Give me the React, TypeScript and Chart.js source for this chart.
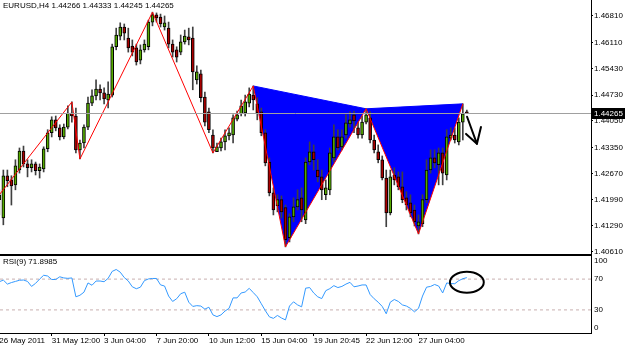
import React, { useEffect, useRef } from 'react';
import { Chart, registerables } from 'chart.js';
Chart.register(...registerables);

const symbol = 'EURUSD,H4';

const opens = [
  1.4198, 1.4150, 1.4261, 1.4250, 1.4237, 1.4276, 1.4326, 1.4292, 1.4282, 1.4292,
  1.4274, 1.4279, 1.4332, 1.4374, 1.4408, 1.4387, 1.4363, 1.4389, 1.4426, 1.4418,
  1.4329, 1.4347, 1.4389, 1.4452, 1.4471, 1.4489, 1.4479, 1.4460, 1.4473, 1.4600,
  1.4628, 1.4652, 1.4623, 1.4602, 1.4597, 1.4565, 1.4592, 1.4600, 1.4665, 1.4684,
  1.4678, 1.4652, 1.4649, 1.4607, 1.4592, 1.4586, 1.4613, 1.4626, 1.4623, 1.4513,
  1.4529, 1.4468, 1.4429, 1.4368, 1.4324, 1.4334, 1.4350, 1.4366, 1.4368, 1.4410,
  1.4424, 1.4426, 1.4452, 1.4473, 1.4450, 1.4429, 1.4374, 1.4297, 1.4216, 1.4182,
  1.4198, 1.4177, 1.4098, 1.4153, 1.4179, 1.4203, 1.4145, 1.4297, 1.4324, 1.4276,
  1.4258, 1.4211, 1.4224, 1.4308, 1.4363, 1.4337, 1.4368, 1.4397, 1.4421, 1.4387,
  1.4368, 1.4402, 1.4413, 1.4355, 1.4324, 1.4303, 1.4255, 1.4163, 1.4263, 1.4258,
  1.4232, 1.4203, 1.4190, 1.4171, 1.4129, 1.4135, 1.4198, 1.4276, 1.4308, 1.4290,
  1.4321, 1.4263, 1.4360, 1.4368, 1.4350, 1.4402, 1.44266,
];
const highs = [
  1.4224, 1.4276, 1.4276, 1.4261, 1.4303, 1.4334, 1.4339, 1.4303, 1.4303, 1.4297,
  1.4292, 1.4337, 1.4382, 1.4416, 1.4418, 1.4395, 1.4397, 1.4445, 1.4455, 1.4439,
  1.4355, 1.4395, 1.4468, 1.4487, 1.4513, 1.4500, 1.4492, 1.4508, 1.4607, 1.4649,
  1.4663, 1.4660, 1.4649, 1.4618, 1.4607, 1.4605, 1.4618, 1.4670, 1.4691, 1.4689,
  1.4686, 1.4681, 1.4665, 1.4618, 1.4600, 1.4631, 1.4644, 1.4649, 1.4652, 1.4550,
  1.4539, 1.4481, 1.4439, 1.4382, 1.4347, 1.4360, 1.4382, 1.4387, 1.4421, 1.4431,
  1.4460, 1.4473, 1.4492, 1.4497, 1.4466, 1.4439, 1.4382, 1.4308, 1.4229, 1.4211,
  1.4208, 1.4184, 1.4161, 1.4203, 1.4224, 1.4229, 1.4308, 1.4350, 1.4342, 1.4303,
  1.4276, 1.4250, 1.4334, 1.4395, 1.4382, 1.4382, 1.4421, 1.4429, 1.4431, 1.4402,
  1.4418, 1.4437, 1.4429, 1.4368, 1.4342, 1.4313, 1.4276, 1.4276, 1.4282, 1.4271,
  1.4271, 1.4219, 1.4211, 1.4184, 1.4158, 1.4211, 1.4303, 1.4329, 1.4329, 1.4334,
  1.4334, 1.4382, 1.4387, 1.4387, 1.4413, 1.4450, 1.44333,
];
const lows = [
  1.4158, 1.4132, 1.4232, 1.4184, 1.4224, 1.4268, 1.4284, 1.4258, 1.4271, 1.4263,
  1.4255, 1.4271, 1.4324, 1.4363, 1.4379, 1.4355, 1.4358, 1.4384, 1.4402, 1.4321,
  1.4305, 1.4334, 1.4382, 1.4445, 1.4460, 1.4460, 1.4450, 1.4439, 1.4468, 1.4592,
  1.4618, 1.4618, 1.4586, 1.4576, 1.4552, 1.4555, 1.4586, 1.4592, 1.4655, 1.4665,
  1.4652, 1.4644, 1.4597, 1.4573, 1.4560, 1.4579, 1.4607, 1.4605, 1.4487, 1.4502,
  1.4455, 1.4392, 1.4374, 1.4321, 1.4326, 1.4326, 1.4329, 1.4355, 1.4347, 1.4405,
  1.4418, 1.4418, 1.4442, 1.4434, 1.4408, 1.4366, 1.4287, 1.4208, 1.4158, 1.4166,
  1.4150, 1.4074, 1.4087, 1.4140, 1.4171, 1.4140, 1.4135, 1.4290, 1.4276, 1.4245,
  1.4198, 1.4198, 1.4211, 1.4297, 1.4329, 1.4329, 1.4360, 1.4389, 1.4374, 1.4360,
  1.4360, 1.4397, 1.4347, 1.4321, 1.4295, 1.4250, 1.4127, 1.4158, 1.4237, 1.4224,
  1.4190, 1.4171, 1.4153, 1.4129, 1.4108, 1.4127, 1.4190, 1.4268, 1.4282, 1.4237,
  1.4237, 1.4250, 1.4355, 1.4347, 1.4342, 1.4355, 1.44245,
];
const closes = [
  1.4211, 1.4261, 1.4248, 1.4234, 1.4287, 1.4326, 1.4292, 1.4282, 1.4292, 1.4274,
  1.4284, 1.4332, 1.4374, 1.4408, 1.4387, 1.4363, 1.4389, 1.4426, 1.4418, 1.4329,
  1.4347, 1.4389, 1.4452, 1.4471, 1.4489, 1.4479, 1.4463, 1.4476, 1.4600, 1.4631,
  1.4652, 1.4636, 1.4597, 1.4586, 1.4560, 1.4592, 1.4607, 1.4665, 1.4684, 1.4676,
  1.4660, 1.4663, 1.4607, 1.4586, 1.4573, 1.4613, 1.4628, 1.4618, 1.4534, 1.4534,
  1.4466, 1.4402, 1.4382, 1.4334, 1.4337, 1.4350, 1.4366, 1.4374, 1.4413, 1.4421,
  1.4445, 1.4455, 1.4476, 1.4460, 1.4426, 1.4374, 1.4295, 1.4216, 1.4171, 1.4198,
  1.4166, 1.4093, 1.4153, 1.4179, 1.4198, 1.4171, 1.4297, 1.4324, 1.4303, 1.4258,
  1.4224, 1.4229, 1.4321, 1.4363, 1.4334, 1.4363, 1.4400, 1.4408, 1.4405, 1.4368,
  1.4402, 1.4421, 1.4355, 1.4329, 1.4303, 1.4255, 1.4163, 1.4258, 1.4250, 1.4232,
  1.4198, 1.4184, 1.4163, 1.4140, 1.4140, 1.4198, 1.4276, 1.4308, 1.4295, 1.4321,
  1.4268, 1.4363, 1.4368, 1.4355, 1.4402, 1.4424, 1.44265,
];
const rsi = [
  66.6, 68.7, 63.5, 65.5, 67, 68.5, 68.8, 67, 60.5, 64.5,
  70, 75, 74, 69.5, 69.5, 73, 71.5, 71, 71.5, 47,
  49, 53, 65, 62, 67.5, 67.5, 66.6, 71, 80, 82.5,
  79, 72, 67.5, 60, 57.5, 59.5, 68, 70.2, 70.8, 70.8,
  62.5, 61, 48, 41, 44.5, 51, 53, 40, 34.5, 35.5,
  35, 31, 33.5, 23.5, 21.3, 23.5, 28.5, 32, 45.6, 45.6,
  52, 53.2, 58, 52.5, 47, 38, 29, 21, 19, 22.8,
  19.5, 17, 35, 40.5, 36.5, 34, 58.2, 59, 52, 47,
  44.7, 55, 57.6, 61.5, 59, 60.5, 63.5, 65.8, 60, 61,
  62.4, 62.4, 50, 44.5, 40, 34.5, 25, 40, 43.5, 41,
  36.5, 35, 32, 27.5, 32, 48, 59.5, 60.5, 63, 61,
  52, 65, 64.2, 64, 68, 70.5, 71.8985,
];

const timeLabelIdx = [0, 13, 26, 39, 52, 65, 78, 91, 104];
const timeLabels = ['26 May 2011', '31 May 12:00', '3 Jun 04:00', '7 Jun 20:00', '10 Jun 12:00', '15 Jun 04:00', '19 Jun 20:45', '22 Jun 12:00', '27 Jun 04:00'];
const priceTicks = [1.4681, 1.4611, 1.4543, 1.4473, 1.4405, 1.4335, 1.4267, 1.4199, 1.4129, 1.4061];
const rsiTicks = [100, 70, 30, 0];
const rsiLevels = [70, 30];

const zigzagIdx = [0, 18, 20, 38, 53, 63, 71, 91, 104, 115];
const zigzagVal = [1.4211, 1.4455, 1.4305, 1.4691, 1.4321, 1.4497, 1.4074, 1.4437, 1.4108, 1.4450];
const triTopIdx = [63, 91, 115];
const triTopVal = [1.4497, 1.4437, 1.4450];
const triBotIdx = [63, 71, 91, 104, 115];
const triBotVal = [1.4497, 1.4074, 1.4437, 1.4108, 1.4450];

// hand-drawn marks, in data units (bar index, price / rsi)
const arrowStrokes = [
  [[116.05, 1.4416], [118.5, 1.4345], [119.5, 1.4389]],
  [[115.8, 1.4371], [118.5, 1.4345]],
];
const rsiCircle = { i: 116, v: 66, ri: 4.2, rv: 13.6 };

const X_MIN = 0.17;
const X_MAX = 146.8;
const P_MIN = 1.4050;
const P_MAX = 1.4723;

const FAMILY = "'Liberation Sans', Arial, sans-serif";
const FONT = { family: FAMILY, size: 8 };
const BULL = '#55aa00';
const BEAR = '#aa0000';

export default function App() {
  const mainRef = useRef<HTMLCanvasElement>(null);
  const rsiRef = useRef<HTMLCanvasElement>(null);

  useEffect(() => {
    document.body.style.margin = '0';
    const n = closes.length;
    const idx = closes.map((_, i) => i);

    const mainDeco = {
      id: 'mainDeco',
      afterDatasetsDraw(chart: any) {
        const { ctx, chartArea: a, scales } = chart;
        const x = scales.x, y = scales.y;
        const py = Math.round(y.getPixelForValue(closes[n - 1])) + 0.5;
        ctx.save();
        ctx.strokeStyle = '#a0a0a0';
        ctx.lineWidth = 1;
        ctx.beginPath();
        ctx.moveTo(a.left, py);
        ctx.lineTo(a.right, py);
        ctx.stroke();
        ctx.strokeStyle = '#000';
        ctx.lineWidth = 2;
        ctx.lineCap = 'round';
        ctx.lineJoin = 'round';
        arrowStrokes.forEach((s) => {
          ctx.beginPath();
          s.forEach(([i, v], k) => {
            const px = x.getPixelForValue(i);
            const pv = y.getPixelForValue(v);
            if (k) ctx.lineTo(px, pv); else ctx.moveTo(px, pv);
          });
          ctx.stroke();
        });
        ctx.restore();
      },
      afterDraw(chart: any) {
        const { ctx, chartArea: a, scales, width } = chart;
        const y = scales.y;
        ctx.save();
        ctx.font = `8px ${FAMILY}`;
        ctx.textBaseline = 'middle';
        ctx.fillStyle = '#000';
        const hdr = `${symbol} ${opens[n - 1].toFixed(5)} ${highs[n - 1].toFixed(5)} ${lows[n - 1].toFixed(5)} ${closes[n - 1].toFixed(5)}`;
        ctx.fillText(hdr, 3, 6);
        const py = Math.round(y.getPixelForValue(closes[n - 1]));
        ctx.fillStyle = '#000';
        ctx.fillRect(a.right + 1, py - 5, width - a.right - 1, 11);
        ctx.fillStyle = '#fff';
        ctx.fillText(closes[n - 1].toFixed(5), a.right + 3, py + 0.5);
        ctx.fillStyle = '#000';
        ctx.fillRect(0, a.bottom - 2, a.right + 1, 2);
        ctx.restore();
      },
    };

    const main = new Chart(mainRef.current!, {
      type: 'bar',
      data: {
        datasets: [
          {
            type: 'line',
            data: triTopIdx.map((i, k) => ({ x: i, y: triTopVal[k] })),
            borderColor: '#0000ff',
            backgroundColor: '#0000ff',
            borderWidth: 1,
            pointRadius: 0,
            fill: 1,
            order: 5,
          } as any,
          {
            type: 'line',
            data: triBotIdx.map((i, k) => ({ x: i, y: triBotVal[k] })),
            borderColor: 'rgba(0,0,0,0)',
            borderWidth: 0,
            pointRadius: 0,
            fill: false,
            order: 5,
          } as any,
          {
            type: 'line',
            data: zigzagIdx.map((i, k) => ({ x: i, y: zigzagVal[k] })),
            borderColor: '#ff0000',
            borderWidth: 1,
            pointRadius: 0,
            fill: false,
            order: 0,
          } as any,
          {
            type: 'bar',
            data: idx.map((i) => ({ x: i, y: [lows[i], highs[i]] })),
            backgroundColor: '#404040',
            borderWidth: 0,
            barThickness: 1,
            grouped: false,
            order: 3,
          } as any,
          {
            type: 'bar',
            data: idx.map((i) => ({ x: i, y: [opens[i], closes[i]] })),
            backgroundColor: idx.map((i) => (closes[i] >= opens[i] ? BULL : BEAR)),
            borderColor: '#000',
            borderWidth: 1,
            borderSkipped: false,
            barThickness: 3,
            minBarLength: 1,
            grouped: false,
            order: 2,
          } as any,
        ],
      },
      options: {
        animation: false,
        responsive: false,
        maintainAspectRatio: false,
        events: [],
        layout: { padding: 0 },
        plugins: {
          legend: { display: false },
          tooltip: { enabled: false },
          filler: { propagate: false, drawTime: 'beforeDatasetsDraw' },
        } as any,
        scales: {
          x: { type: 'linear', min: X_MIN, max: X_MAX, offset: false, display: false },
          y: {
            type: 'linear',
            position: 'right',
            min: P_MIN,
            max: P_MAX,
            afterBuildTicks: (s: any) => { s.ticks = priceTicks.map((v) => ({ value: v })); },
            afterFit: (s: any) => { s.width = 34; s.paddingTop = 0; s.paddingBottom = 0; },
            ticks: {
              autoSkip: false,
              font: FONT,
              color: '#000',
              padding: 1,
              callback: (v: any) => Number(v).toFixed(5),
            },
            grid: { drawOnChartArea: false, drawTicks: true, tickLength: 2, tickColor: '#000' },
            border: { display: true, color: '#000', width: 1 },
          },
        },
      } as any,
      plugins: [mainDeco],
    });

    const rsiDeco = {
      id: 'rsiDeco',
      beforeDraw(chart: any) {
        const items = chart.scales.y.getLabelItems();
        items.forEach((it: any) => {
          if (it.label === '100') it.options.translation[1] += 5;
          if (it.label === '0') it.options.translation[1] -= 5;
        });
      },
      afterDraw(chart: any) {
        const { ctx, chartArea: a, scales } = chart;
        const x = scales.x, y = scales.y;
        ctx.save();
        ctx.font = `8px ${FAMILY}`;
        ctx.textBaseline = 'middle';
        ctx.fillStyle = '#000';
        ctx.fillText(`RSI(9) ${rsi[n - 1].toFixed(4)}`, 3, a.top + 6);
        const cx = x.getPixelForValue(rsiCircle.i);
        const cy = y.getPixelForValue(rsiCircle.v);
        const rx = Math.abs(x.getPixelForValue(rsiCircle.i + rsiCircle.ri) - cx);
        const ry = Math.abs(y.getPixelForValue(rsiCircle.v + rsiCircle.rv) - cy);
        ctx.strokeStyle = '#000';
        ctx.lineWidth = 2;
        ctx.beginPath();
        ctx.ellipse(cx, cy, rx, ry, 0, 0, Math.PI * 2);
        ctx.stroke();
        ctx.restore();
      },
    };

    const rsiChart = new Chart(rsiRef.current!, {
      type: 'line',
      data: {
        datasets: [
          {
            data: idx.map((i) => ({ x: i, y: rsi[i] })),
            borderColor: '#3399ff',
            borderWidth: 1,
            pointRadius: 0,
            tension: 0,
            fill: false,
            order: 0,
          },
          ...rsiLevels.map((lv) => ({
            data: [{ x: X_MIN, y: lv }, { x: X_MAX, y: lv }],
            borderColor: '#c8b0b0',
            borderWidth: 1,
            borderDash: [3, 3],
            pointRadius: 0,
            fill: false,
            order: 1,
          })),
        ] as any,
      },
      options: {
        animation: false,
        responsive: false,
        maintainAspectRatio: false,
        events: [],
        layout: { padding: 0 },
        plugins: { legend: { display: false }, tooltip: { enabled: false } },
        scales: {
          x: {
            type: 'linear',
            min: X_MIN,
            max: X_MAX,
            offset: false,
            position: 'bottom',
            afterBuildTicks: (s: any) => { s.ticks = timeLabelIdx.map((v) => ({ value: v })); },
            afterFit: (s: any) => { s.height = 16; s.paddingLeft = 0; s.paddingRight = 0; },
            ticks: {
              autoSkip: false,
              maxRotation: 0,
              minRotation: 0,
              align: 'start',
              padding: 0,
              font: FONT,
              color: '#000',
              callback: (v: any) => {
                const k = timeLabelIdx.indexOf(Number(v));
                return k >= 0 ? timeLabels[k] : '';
              },
            },
            grid: { drawOnChartArea: false, drawTicks: true, tickLength: 3, tickColor: '#000' },
            border: { display: true, color: '#000', width: 1 },
          },
          y: {
            type: 'linear',
            position: 'right',
            min: 0,
            max: 100,
            afterBuildTicks: (s: any) => { s.ticks = rsiTicks.map((v) => ({ value: v })); },
            afterFit: (s: any) => { s.width = 34; s.paddingTop = 0; s.paddingBottom = 0; },
            ticks: {
              autoSkip: false,
              font: FONT,
              color: '#000',
              padding: 3,
              callback: (v: any) => String(v),
            },
            grid: { drawOnChartArea: false, drawTicks: false },
            border: { display: true, color: '#000', width: 1 },
          },
        },
      } as any,
      plugins: [rsiDeco],
    });

    return () => {
      main.destroy();
      rsiChart.destroy();
    };
  }, []);

  return (
    <div style={{ position: 'relative', width: 625, height: 349, background: '#fff', overflow: 'hidden' }}>
      <canvas ref={mainRef} width={625} height={256} style={{ position: 'absolute', left: 0, top: 0 }} />
      <canvas ref={rsiRef} width={625} height={93} style={{ position: 'absolute', left: 0, top: 256 }} />
    </div>
  );
}
